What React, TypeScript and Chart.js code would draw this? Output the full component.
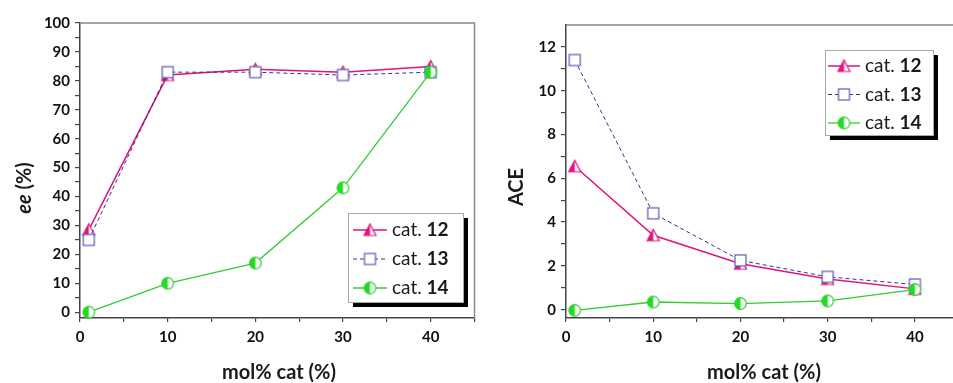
import React, { useEffect, useRef } from 'react';
import { Chart, registerables } from 'chart.js';
Chart.register(...registerables);

// ---------- data ----------
const molPct = [1, 10, 20, 30, 40];
const seriesNames = ['12', '13', '14'];
const eeCat12 = [28.5, 82, 84, 83, 85];
const eeCat13 = [25, 83, 83, 82, 83];
const eeCat14 = [0, 10, 17, 43, 83];
const aceCat12 = [6.55, 3.4, 2.1, 1.4, 0.95];
const aceCat13 = [11.4, 4.4, 2.25, 1.5, 1.15];
const aceCat14 = [-0.03, 0.35, 0.28, 0.4, 0.92];
const xTickValues = [0, 5, 10, 15, 20, 25, 30, 35, 40, 45];
const xTickLabels = ['0', '10', '20', '30', '40'];
const eeTickValues = [0, 5, 10, 15, 20, 25, 30, 35, 40, 45, 50, 55, 60, 65, 70, 75, 80, 85, 90, 95, 100];
const eeTickLabels = ['0', '10', '20', '30', '40', '50', '60', '70', '80', '90', '100'];
const aceTickValues = [0, 1, 2, 3, 4, 5, 6, 7, 8, 9, 10, 11, 12];
const aceTickLabels = ['0', '2', '4', '6', '8', '10', '12'];

// ---------- styles ----------
const MAG = '#e2127c';
const NAVY_LINE = '#34348f';
const NAVY_MARK = '#5a5ab8';
const GREEN_LINE = '#33cc33';
const GREEN_FILL = '#1fdd1f';
const FONT = 'Lato, "Open Sans", sans-serif';
const AXIS = '#444';

function makeMarker(kind: 'tri' | 'sq' | 'circ'): HTMLCanvasElement {
  const c = document.createElement('canvas');
  const s = 15;
  c.width = s;
  c.height = s;
  const g = c.getContext('2d')!;
  g.lineWidth = 1.2;
  if (kind === 'tri') {
    g.beginPath();
    g.moveTo(7.5, 1.5);
    g.lineTo(13.5, 13);
    g.lineTo(1.5, 13);
    g.closePath();
    g.fillStyle = '#fff';
    g.fill();
    g.save();
    g.clip();
    g.fillStyle = MAG;
    g.fillRect(0, 0, 7.5, s);
    g.restore();
    g.strokeStyle = MAG;
    g.stroke();
  } else if (kind === 'sq') {
    g.fillStyle = '#fff';
    g.fillRect(2, 2, 11, 11);
    g.strokeStyle = NAVY_MARK;
    g.strokeRect(2, 2, 11, 11);
  } else {
    g.beginPath();
    g.arc(7.5, 7.5, 5.8, 0, Math.PI * 2);
    g.fillStyle = '#fff';
    g.fill();
    g.save();
    g.clip();
    g.fillStyle = GREEN_FILL;
    g.fillRect(0, 0, 7.5, s);
    g.restore();
    g.strokeStyle = GREEN_LINE;
    g.stroke();
  }
  return c;
}

type Panel = {
  canvasLeft: number;
  width: number;
  area: { left: number; top: number; right: number; bottom: number };
  yMin: number;
  yMax: number;
  yTickValues: number[];
  yTickLabels: string[];
  ys: number[][];
  yTitle: { text: string; italic?: boolean }[];
  yTitlePos: { x: number; y: number };
  xTitlePos: { x: number; y: number };
  legend: { x: number; y: number; w: number; h: number; row0: number; gap: number; l0: number; l1: number; tx: number };
};

const H = 383;

const panels: Panel[] = [
  {
    canvasLeft: 0,
    width: 482,
    area: { left: 80, top: 23, right: 479, bottom: 318 },
    yMin: -2,
    yMax: 100,
    yTickValues: eeTickValues,
    yTickLabels: eeTickLabels,
    ys: [eeCat12, eeCat13, eeCat14],
    yTitle: [{ text: 'ee', italic: true }, { text: ' (%)' }],
    yTitlePos: { x: 25, y: 188 },
    xTitlePos: { x: 279, y: 373 },
    legend: { x: 348, y: 213, w: 115, h: 89, row0: 17, gap: 29, l0: 5, l1: 39, tx: 44 },
  },
  {
    canvasLeft: 480,
    width: 486,
    area: { left: 86, top: 25, right: 483, bottom: 318 },
    yMin: -0.38,
    yMax: 13,
    yTickValues: aceTickValues,
    yTickLabels: aceTickLabels,
    ys: [aceCat12, aceCat13, aceCat14],
    yTitle: [{ text: 'ACE' }],
    yTitlePos: { x: 37, y: 187 },
    xTitlePos: { x: 284, y: 373 },
    legend: { x: 345, y: 50, w: 108, h: 85, row0: 16, gap: 28.5, l0: 3, l1: 35, tx: 40 },
  },
];

function PanelChart({ p }: { p: Panel }) {
  const ref = useRef<HTMLCanvasElement>(null);
  useEffect(() => {
    const markers = [makeMarker('tri'), makeMarker('sq'), makeMarker('circ')];
    const lineColors = [MAG, NAVY_LINE, GREEN_LINE];
    const dashes = [[], [4, 3], []];
    const widths = [1.5, 1, 1.3];
    const orders = [2, 1, 0];

    const datasets = p.ys.map((ys, i) => ({
      label: 'cat. ' + seriesNames[i],
      data: molPct.map((x, j) => ({ x, y: ys[j] })),
      borderColor: lineColors[i],
      backgroundColor: lineColors[i],
      borderWidth: widths[i],
      borderDash: dashes[i],
      pointStyle: markers[i] as any,
      pointRadius: 6,
      tension: 0,
      order: orders[i],
      clip: false as any,
    }));

    const decor = {
      id: 'decor',
      afterDraw(chart: any) {
        const ctx = chart.ctx as CanvasRenderingContext2D;
        const a = chart.chartArea;
        ctx.save();
        // top and right frame
        ctx.strokeStyle = '#888';
        ctx.lineWidth = 1.5;
        ctx.beginPath();
        ctx.moveTo(a.left, a.top);
        ctx.lineTo(a.right, a.top);
        ctx.lineTo(a.right, a.bottom);
        ctx.stroke();

        // x title
        ctx.fillStyle = '#1a1a1a';
        ctx.textAlign = 'center';
        ctx.textBaseline = 'middle';
        ctx.font = `bold 20px ${FONT}`;
        ctx.fillText('mol% cat (%)', p.xTitlePos.x, p.xTitlePos.y);

        // y title (rotated, mixed styles)
        ctx.save();
        ctx.translate(p.yTitlePos.x, p.yTitlePos.y);
        ctx.rotate(-Math.PI / 2);
        const fontFor = (pt: { italic?: boolean }) => `${pt.italic ? 'italic ' : ''}bold 20px ${FONT}`;
        let total = 0;
        p.yTitle.forEach((pt) => {
          ctx.font = fontFor(pt);
          total += ctx.measureText(pt.text).width;
        });
        let cx = -total / 2;
        ctx.textAlign = 'left';
        p.yTitle.forEach((pt) => {
          ctx.font = fontFor(pt);
          ctx.fillText(pt.text, cx, 0);
          cx += ctx.measureText(pt.text).width;
        });
        ctx.restore();

        // legend
        const L = p.legend;
        ctx.fillStyle = '#000';
        ctx.fillRect(L.x + 5, L.y + 5, L.w, L.h);
        ctx.fillStyle = '#fff';
        ctx.fillRect(L.x, L.y, L.w, L.h);
        ctx.strokeStyle = '#aaa';
        ctx.lineWidth = 1;
        ctx.strokeRect(L.x + 0.5, L.y + 0.5, L.w, L.h);
        seriesNames.forEach((name, i) => {
          const y = L.y + L.row0 + i * L.gap;
          ctx.strokeStyle = lineColors[i];
          ctx.lineWidth = widths[i];
          ctx.setLineDash(dashes[i]);
          ctx.beginPath();
          ctx.moveTo(L.x + L.l0, y);
          ctx.lineTo(L.x + L.l1, y);
          ctx.stroke();
          ctx.setLineDash([]);
          const m = markers[i];
          const mx = L.x + (L.l0 + L.l1) / 2;
          ctx.drawImage(m, mx - m.width / 2, y - m.height / 2);
          ctx.fillStyle = '#1a1a1a';
          ctx.textAlign = 'left';
          ctx.textBaseline = 'middle';
          ctx.font = `19px ${FONT}`;
          const pre = 'cat. ';
          ctx.fillText(pre, L.x + L.tx, y);
          const w = ctx.measureText(pre).width;
          ctx.font = `bold 19px ${FONT}`;
          ctx.fillText(name, L.x + L.tx + w, y);
        });
        ctx.restore();
      },
    };

    const chart = new Chart(ref.current!, {
      type: 'line',
      data: { datasets: datasets as any },
      plugins: [decor],
      options: {
        animation: false,
        responsive: false,
        devicePixelRatio: 1,
        events: [],
        layout: { padding: { top: p.area.top, right: p.width - p.area.right, left: 0, bottom: 0 } },
        plugins: { legend: { display: false }, tooltip: { enabled: false } },
        scales: {
          x: {
            type: 'linear',
            min: 0,
            max: 45,
            afterFit: (s: any) => {
              s.height = H - p.area.bottom;
            },
            afterBuildTicks: (s: any) => {
              s.ticks = xTickValues.map((v) => ({ value: v }));
            },
            grid: { drawOnChartArea: false, drawTicks: true, tickLength: 4, color: AXIS, lineWidth: 1.2 },
            border: { display: true, color: AXIS, width: 1.5 },
            ticks: {
              autoSkip: false,
              maxRotation: 0,
              padding: 6,
              color: '#111',
              font: { family: FONT, size: 15, weight: 'bold' },
              callback: (v: any) => (xTickLabels.includes(String(v)) ? String(v) : ''),
            },
          },
          y: {
            type: 'linear',
            min: p.yMin,
            max: p.yMax,
            afterFit: (s: any) => {
              s.width = p.area.left;
            },
            afterBuildTicks: (s: any) => {
              s.ticks = p.yTickValues.map((v) => ({ value: v }));
            },
            grid: { drawOnChartArea: false, drawTicks: true, tickLength: 5, color: AXIS, lineWidth: 1.2 },
            border: { display: true, color: AXIS, width: 1.5 },
            ticks: {
              autoSkip: false,
              padding: 5,
              color: '#111',
              font: { family: FONT, size: 15, weight: 'bold' },
              callback: (v: any) => (p.yTickLabels.includes(String(v)) ? String(v) : ''),
            },
          },
        },
      } as any,
    });
    return () => chart.destroy();
  }, [p]);
  return (
    <canvas
      ref={ref}
      width={p.width}
      height={H}
      style={{ position: 'absolute', left: p.canvasLeft, top: 0, width: p.width, height: H }}
    />
  );
}

export default function App() {
  return (
    <div
      style={{
        position: 'fixed',
        left: 0,
        top: 0,
        width: 953,
        height: H,
        overflow: 'hidden',
        background: '#fff',
      }}
    >
      {panels.map((p, i) => (
        <PanelChart key={i} p={p} />
      ))}
    </div>
  );
}
